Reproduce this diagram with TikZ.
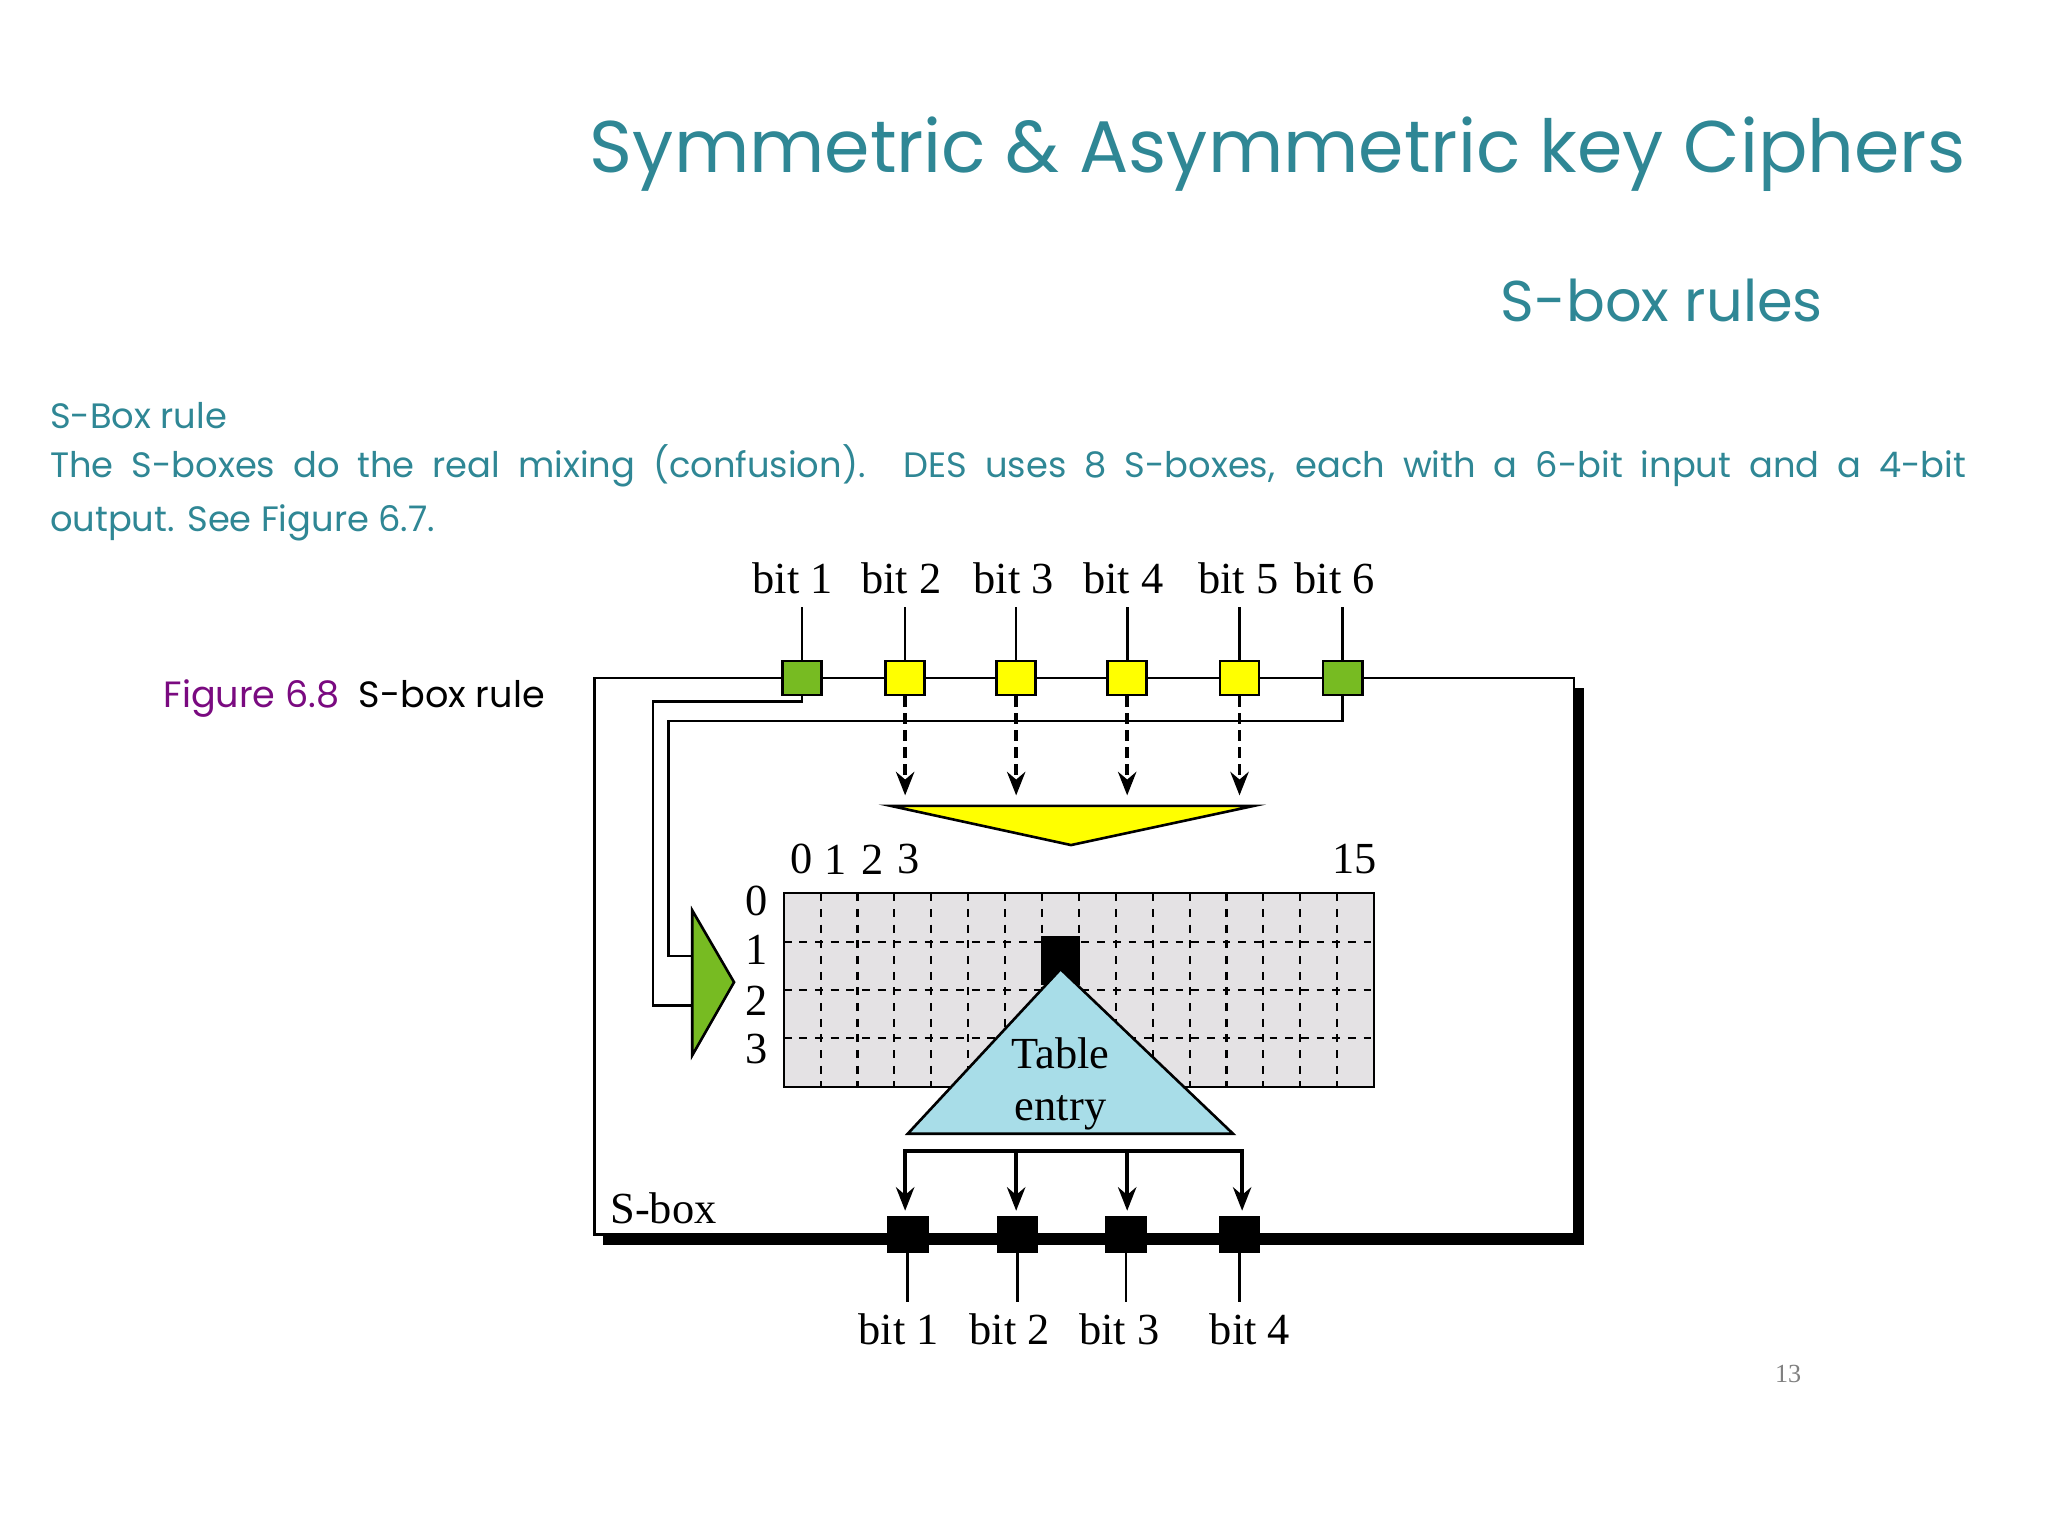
\documentclass[tikz,border=0pt]{standalone}
\usepackage{fontspec}
\setmainfont{Liberation Serif}
\newfontfamily\pop{Poppins}
\usetikzlibrary{arrows.meta}
\definecolor{teal1}{HTML}{2F8795}
\definecolor{purp}{HTML}{7A0A80}
\definecolor{yel}{HTML}{FFFF00}
\definecolor{grn}{HTML}{77BB22}
\definecolor{lblue}{HTML}{A8DDE8}
\definecolor{gridg}{HTML}{E4E2E4}
\tikzset{
 sq/.style={draw,line width=1pt,minimum width=15pt,minimum height=13pt,inner sep=0},
 bsq/.style={fill=black,minimum width=16pt,minimum height=14pt,inner sep=0},
 lbl/.style={font=\fontsize{17}{19}\selectfont,inner sep=0},
 wire/.style={line width=1pt},
 darr/.style={line width=1.5pt,dash pattern=on 4pt off 2.5pt,-{Stealth[length=9pt,width=7pt]}},
 arr/.style={line width=1.5pt,-{Stealth[length=9pt,width=7pt]}}
}
\begin{document}
\begin{tikzpicture}[x=0.5pt,y=-0.5pt]
\useasboundingbox (0,0) rectangle (1568,1176);
\fill[white] (0,0) rectangle (1568,1176);
% texts
\node[anchor=east,teal1,font=\pop\fontsize{28}{32}\selectfont,inner sep=0] (title) at (1505,118) {Symmetric \& Asymmetric key Ciphers};
\node[anchor=east,teal1,font=\pop\fontsize{22}{26}\selectfont,inner sep=0] (sub) at (1396,230) {S-box rules};
\node[anchor=west,teal1,font=\pop\fontsize{13.5}{16}\selectfont,inner sep=0] (hd) at (38,318) {S-Box rule};
\node[anchor=north west,teal1,font=\pop\fontsize{13.5}{20.5}\selectfont,inner sep=0,text width=733.5pt,align=justify] (par) at (38,340) {The S-boxes do the real mixing (confusion). DES uses 8 S-boxes, each with a 6-bit input and a 4-bit\linebreak output. See Figure 6.7.};
\node[anchor=west,font=\pop\fontsize{14}{16}\selectfont,inner sep=0] (fig) at (125,535) {\textcolor{purp}{Figure 6.8}\ \ S-box rule};
\node[gray,font=\fontsize{10}{12}\selectfont] (pg) at (1369,1052) {13};
% outer box with shadow
\draw[wire,fill=white] (455,519) rectangle (1205,945);
\draw[line width=4pt] (462,949) -- (1209,949) -- (1209,527);
\node[lbl,anchor=west] (sbox) at (467,925) {S-box};
% green wires
\coordinate (g1) at (530,770); \coordinate (g6) at (530,732);
\draw[wire] (614,519) -- (614,537) -- (500,537) -- (500,770) -- (g1);
\draw[wire] (1028,519) -- (1028,552) -- (512,552) -- (512,732) -- (g6);
% top squares
\foreach \x/\c/\lx [count=\i] in {614/grn/607,693/yel/690,778/yel/776,863/yel/860,949/yel/948,1028/grn/1022}{
  \node[lbl] (t\i) at (\lx,443) {bit \i};
  \draw[wire] (\x,465) -- (\x,519);
  \node[sq,fill=\c] (s\i) at (\x,519) {};
}
% yellow triangle
\draw[fill=yel,line width=1pt] (682,617) coordinate (ya) -- (960,617) -- (820,647) -- cycle;
\foreach \i in {2,3,4,5}{ \draw[darr] (s\i.south) -- ([yshift=4pt]s\i.south |- ya); }
% grid
\fill[gridg] (600,684) rectangle (1052,832);
\foreach \k in {1,...,15}{ \draw[dashed,line width=0.8pt] (600+\k*28.25,684) -- (600+\k*28.25,832); }
\foreach \k in {1,2,3}{ \draw[dashed,line width=0.8pt] (600,684+\k*37) -- (1052,684+\k*37); }
\draw[line width=0.8pt] (600,684) rectangle (1052,832);
\node[lbl] (c0) at (614,658) {0};
\node[lbl] (c1) at (640,658) {1};
\node[lbl] (c2) at (668,658) {2};
\node[lbl] (c3) at (696,658) {3};
\node[lbl] (c15) at (1037,658) {15};
\node[lbl] (r0) at (579,690) {0};
\node[lbl] (r1) at (579,727) {1};
\node[lbl] (r2) at (579,766) {2};
\node[lbl] (r3) at (579,803) {3};
\fill (797,717) rectangle (827,754);
% green selector
\draw[fill=grn,line width=1pt] (530,697) -- (562,752) -- (530,808) -- cycle;
% blue triangle
\draw[fill=lblue,line width=1pt] (695,868) -- (944,868) -- (812,742) -- cycle;
\node[lbl,align=center,font=\fontsize{17}{20}\selectfont] (te) at (812,830) {Table\\entry};
% outputs
\draw[line width=1.5pt] (693,881) -- (951,881);
\foreach \x/\lx [count=\i] in {695/688,779/773,862/857,949/957}{
  \node[bsq] (o\i) at (\x,945) {};
  \draw[wire] (\x,945) -- (\x,997);
  \node[lbl] (ob\i) at (\lx,1018) {bit \i};
}
\foreach \x in {693,778,863,951}{ \draw[arr] (\x,880) -- (\x,927); }
\end{tikzpicture}
\end{document}
